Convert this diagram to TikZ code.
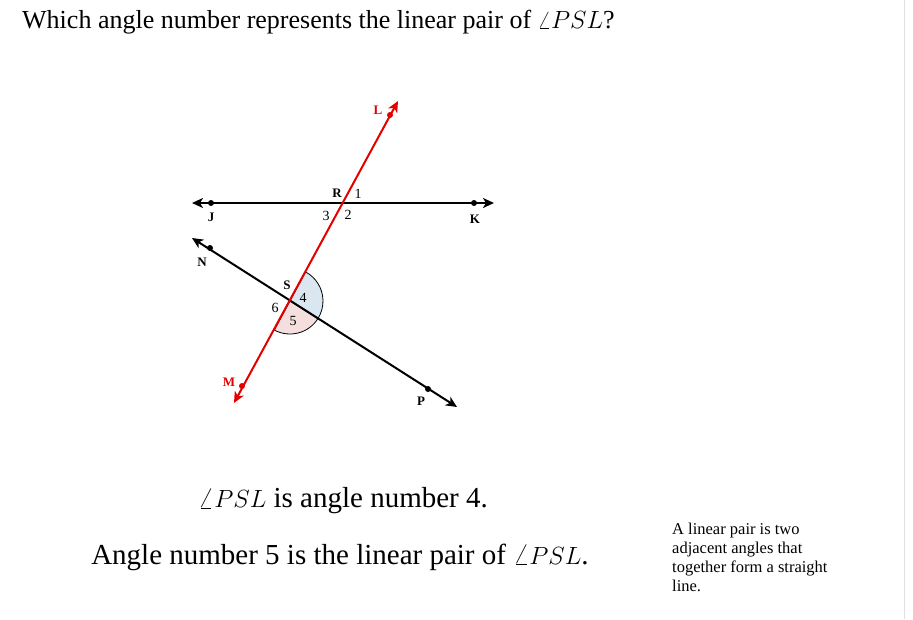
\documentclass[tikz,border=0pt]{standalone}
\usepackage{fontspec}
\setmainfont{Liberation Serif}
\usetikzlibrary{arrows.meta}
\definecolor{angblue}{RGB}{218,230,240}
\definecolor{angpink}{RGB}{244,222,222}
\begin{document}
\begin{tikzpicture}[x=1pt,y=-1pt,
  ln/.style={line width=2pt,{Stealth[length=11pt,width=10pt,inset=3pt]}-{Stealth[length=11pt,width=10pt,inset=3pt]}},
  dot/.style={circle,fill,inner sep=0pt,minimum size=6pt},
  lab/.style={font=\fontsize{13}{14}\selectfont\bfseries,inner sep=0pt},
  num/.style={font=\fontsize{14}{15}\selectfont,inner sep=0pt},
  txt/.style={font=\fontsize{29}{32}\selectfont,inner sep=0pt}]
\useasboundingbox (0,0) rectangle (913,619);
\draw[gray!25,line width=1pt] (904,0) -- (904,619);
\node[inner sep=0pt,anchor=west,font=\fontsize{26}{30}\selectfont] (title) at (22,22) {Which angle number represents the linear pair of $\angle PSL$?};
\coordinate (R) at (342,203);
\coordinate (S) at (290,301);
\coordinate (Jt) at (192,203); \coordinate (Kt) at (494,203);
\coordinate (Nt) at (192,238); \coordinate (Pt) at (457,407);
\coordinate (Lt) at (398,101); \coordinate (Mt) at (234,403);
\fill[angblue,draw=black,line width=0.8pt] (S) -- ++(-61.7:33) arc[start angle=-61.7,end angle=32.5,radius=33] -- cycle;
\fill[angpink,draw=black,line width=0.8pt] (S) -- ++(32.5:33) arc[start angle=32.5,end angle=118.3,radius=33] -- cycle;
\draw[ln] (Jt) -- (Kt);
\draw[ln] (Nt) -- (Pt);
\draw[ln,red!90!black] (Mt) -- (Lt);
\node[dot] (J) at (211,203) {}; \node[dot] (K) at (474,203) {};
\node[dot] (N) at (210,248) {}; \node[dot] (P) at (428,389) {};
\node[dot,red!90!black] (L) at (390,115) {}; \node[dot,red!90!black] (M) at (242,386) {};
\node[lab,red!90!black] (lL) at (378,110) {L};
\node[lab,red!90!black] (lM) at (229,382) {M};
\node[lab] (lR) at (337,193) {R};
\node[lab] (lJ) at (211,217) {J};
\node[lab] (lK) at (475,219) {K};
\node[lab] (lN) at (202,262) {N};
\node[lab] (lS) at (287,285) {S};
\node[lab] (lP) at (421,401) {P};
\node[num] (n1) at (358,194) {1};
\node[num] (n2) at (348,215) {2};
\node[num] (n3) at (326,216) {3};
\node[num] (n4) at (303,298) {4};
\node[num] (n5) at (293,321) {5};
\node[num] (n6) at (275,308) {6};
\node[txt] (a1) at (343,501) {$\angle PSL$ is angle number 4.};
\node[txt] (a2) at (340,557) {Angle number 5 is the linear pair of $\angle PSL$.};
\node[anchor=north west,align=left,inner sep=0pt,font=\fontsize{16.5}{19}\selectfont] (note) at (672,523) {A linear pair is two\\adjacent angles that\\together form a straight\\line.};
\end{tikzpicture}
\end{document}
